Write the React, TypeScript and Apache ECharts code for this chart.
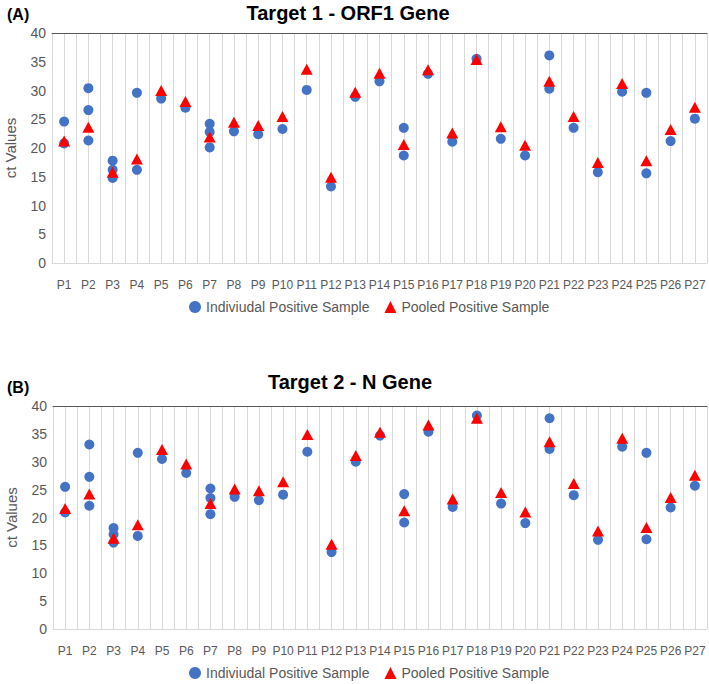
import React, { useEffect, useRef } from "react";
import * as echarts from "echarts";

const categories = [
  "P1", "P2", "P3", "P4", "P5", "P6", "P7", "P8", "P9", "P10", "P11", "P12", "P13", "P14",
  "P15", "P16", "P17", "P18", "P19", "P20", "P21", "P22", "P23", "P24", "P25", "P26", "P27",
];

const yTicks = [0, 5, 10, 15, 20, 25, 30, 35, 40];

// Target 1 - ORF1 Gene
const orf1Individual: number[][] = [
  [24.6, 20.8], [30.4, 26.6, 21.3], [17.8, 16.2, 14.8], [29.6, 16.2], [28.6], [27.0],
  [24.2, 22.8, 20.1], [22.9], [22.4], [23.3], [30.1], [13.3], [28.9], [31.6],
  [23.5, 18.7], [32.9], [21.1], [35.5], [21.6], [18.7], [36.1, 30.3], [23.5],
  [15.8], [29.8], [29.6, 15.6], [21.2], [25.1],
];
const orf1Pooled: number[] = [
  21.2, 23.6, 15.8, 18.1, 30.0, 28.1, 21.9, 24.5, 23.9, 25.5, 33.7, 14.9, 29.7, 33.0,
  20.6, 33.6, 22.6, 35.4, 23.7, 20.5, 31.6, 25.5, 17.5, 31.2, 17.8, 23.2, 27.1,
];

// Target 2 - N Gene
const nIndividual: number[][] = [
  [25.5, 20.9], [33.1, 27.3, 22.1], [18.1, 17.0, 15.5], [31.6, 16.7], [30.5], [28.0],
  [25.2, 23.5, 20.6], [23.7], [23.1], [24.1], [31.8], [13.8], [30.0], [34.7],
  [24.2, 19.1], [35.4], [21.9], [38.3], [22.5], [19.0], [37.8, 32.3], [24.0],
  [16.0], [32.7], [31.6, 16.1], [21.8], [25.7],
];
const nPooled: number[] = [
  21.6, 24.2, 16.3, 18.7, 32.2, 29.6, 22.5, 25.1, 24.8, 26.4, 34.9, 15.2, 31.1, 35.3,
  21.2, 36.6, 23.3, 37.8, 24.5, 21.0, 33.6, 26.1, 17.6, 34.2, 18.2, 23.6, 27.6,
];

const seriesNames = ["Indiviudal Positive Sample", "Pooled Positive Sample"];
const titles = ["Target 1 - ORF1 Gene", "Target 2 - N Gene"];
const panelLabels = ["(A)", "(B)"];

const FONT = "'Liberation Sans', Arial, sans-serif";
const GRAY = "#595959";
const BLUE = "#4472C4";
const RED = "#FF0000";

const groupPoints = (groups: number[][]) =>
  groups.flatMap((vals, i) => vals.map((v) => [i + 1, v]));
const flatPoints = (vals: number[]) => vals.map((v, i) => [i + 1, v]);

export default function App() {
  const ref = useRef<HTMLDivElement>(null);

  useEffect(() => {
    if (!ref.current) return;
    const chart = echarts.init(ref.current, null, { renderer: "svg" });

    const grids = [
      { left: 52, right: 2, top: 33, height: 230, containLabel: false, outerBoundsMode: "none" },
      { left: 53, right: 2, top: 406, height: 223, containLabel: false, outerBoundsMode: "none" },
    ];

    const xAxes: any[] = [];
    const yAxes: any[] = [];
    grids.forEach((_, gi) => {
      xAxes.push({
        type: "value",
        gridIndex: gi,
        min: 0.5,
        max: categories.length + 0.5,
        interval: 0.5,
        axisLine: { show: true, lineStyle: { color: "#D9D9D9", width: 1 } },
        axisTick: { show: false },
        splitLine: { show: true, lineStyle: { color: "#D9D9D9", width: 1 } },
        axisLabel: {
          color: GRAY,
          fontFamily: FONT,
          fontSize: 12,
          margin: 16,
          showMinLabel: true,
          showMaxLabel: true,
          formatter: (v: number) => {
            const r = Math.round(v * 2) / 2;
            return Number.isInteger(r) ? categories[r - 1] ?? "" : "";
          },
        },
      });
      xAxes.push({
        type: "value",
        gridIndex: gi,
        position: "top",
        min: 0.5,
        max: categories.length + 0.5,
        axisLine: { show: true, lineStyle: { color: GRAY, width: 1 } },
        axisTick: { show: false },
        axisLabel: { show: false },
        splitLine: { show: false },
      });
      yAxes.push({
        type: "value",
        gridIndex: gi,
        min: yTicks[0],
        max: yTicks[yTicks.length - 1],
        interval: 5,
        axisLine: { show: false },
        axisTick: { show: false },
        splitLine: { show: false },
        axisLabel: { color: GRAY, fontFamily: FONT, fontSize: 14, margin: 6 },
        name: "ct Values",
        nameLocation: "middle",
        nameGap: 34,
        nameTextStyle: { color: GRAY, fontFamily: FONT, fontSize: 15 },
      });
    });

    const datasets = [
      [orf1Individual, orf1Pooled],
      [nIndividual, nPooled],
    ] as const;

    const series: any[] = [];
    datasets.forEach(([ind, pooled], gi) => {
      series.push({
        name: seriesNames[0],
        type: "scatter",
        xAxisIndex: gi * 2,
        yAxisIndex: gi,
        symbol: "circle",
        symbolSize: 10,
        itemStyle: { color: BLUE, opacity: 1 },
        data: groupPoints(ind as number[][]),
      });
      series.push({
        name: seriesNames[1],
        type: "scatter",
        xAxisIndex: gi * 2,
        yAxisIndex: gi,
        symbol: "triangle",
        symbolSize: [12, 11],
        itemStyle: { color: RED, opacity: 1 },
        data: flatPoints(pooled as number[]),
      });
    });

    const legendTops = [295, 661];
    const legends = legendTops.map((top) => ({
      left: 184,
      top,
      itemWidth: 12,
      itemHeight: 12,
      itemGap: 15,
      textStyle: { color: GRAY, fontFamily: FONT, fontSize: 14 },
      data: [
        { name: seriesNames[0], icon: "circle", itemStyle: { color: BLUE, opacity: 1 } },
        { name: seriesNames[1], icon: "triangle", itemStyle: { color: RED, opacity: 1 } },
      ],
    }));

    const titleY = [13, 382];
    const titleX = [348, 350];
    const graphic: any[] = [];
    titles.forEach((t, i) => {
      graphic.push({
        type: "text",
        x: titleX[i],
        y: titleY[i],
        style: {
          text: t,
          fill: "#000",
          font: `bold 20px ${FONT}`,
          textAlign: "center",
          textVerticalAlign: "middle",
        },
      });
      graphic.push({
        type: "text",
        x: 7,
        y: titleY[i] + (i === 0 ? 1 : 5),
        style: {
          text: panelLabels[i],
          fill: "#000",
          font: `bold 16px ${FONT}`,
          textAlign: "left",
          textVerticalAlign: "middle",
        },
      });
    });

    chart.setOption({
      animation: false,
      backgroundColor: "#fff",
      grid: grids,
      xAxis: xAxes,
      yAxis: yAxes,
      legend: legends,
      series,
      graphic,
    });

    return () => chart.dispose();
  }, []);

  return (
    <div
      ref={ref}
      style={{ position: "absolute", left: 0, top: 0, width: 709, height: 684 }}
    />
  );
}
